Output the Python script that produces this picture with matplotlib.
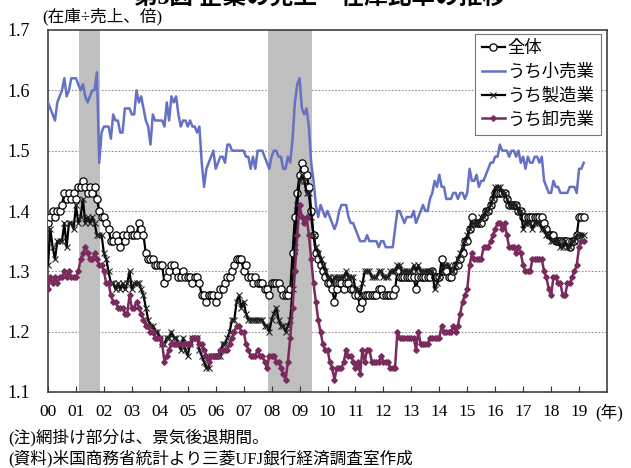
import numpy as np
import pandas as pd
import matplotlib
matplotlib.use('Agg')
import matplotlib.pyplot as plt

# 数字はTimes系、和文はCJKフォントへフォールバック
plt.rcParams['font.family'] = ['Liberation Serif', 'Noto Sans CJK JP']

# ---- データ (月次、2000年1月～2019年3月) ----
start_month = '2000-01'

total = [
    1.38, 1.39, 1.40, 1.39, 1.40, 1.40, 1.41, 1.43, 1.42, 1.43, 1.42, 1.43,  # 2000
    1.42, 1.44, 1.44, 1.45, 1.44, 1.43, 1.44, 1.43, 1.44, 1.42, 1.40, 1.39,  # 2001
    1.39, 1.38, 1.37, 1.35, 1.35, 1.36, 1.35, 1.34, 1.36, 1.35, 1.36, 1.37,  # 2002
    1.36, 1.36, 1.36, 1.38, 1.37, 1.36, 1.33, 1.32, 1.32, 1.32, 1.31, 1.31,  # 2003
    1.31, 1.31, 1.28, 1.29, 1.30, 1.31, 1.31, 1.30, 1.29, 1.29, 1.30, 1.29,  # 2004
    1.29, 1.29, 1.28, 1.29, 1.29, 1.28, 1.26, 1.26, 1.25, 1.26, 1.26, 1.26,  # 2005
    1.25, 1.26, 1.27, 1.27, 1.28, 1.29, 1.29, 1.30, 1.31, 1.32, 1.32, 1.32,  # 2006
    1.30, 1.31, 1.29, 1.29, 1.28, 1.29, 1.28, 1.28, 1.28, 1.27, 1.27, 1.26,  # 2007
    1.28, 1.28, 1.28, 1.28, 1.27, 1.26, 1.26, 1.26, 1.27, 1.33, 1.39, 1.43,  # 2008
    1.46, 1.48, 1.47, 1.46, 1.44, 1.40, 1.36, 1.33, 1.32, 1.31, 1.30, 1.29,  # 2009
    1.28, 1.28, 1.27, 1.25, 1.27, 1.28, 1.28, 1.27, 1.28, 1.28, 1.27, 1.27,  # 2010
    1.26, 1.26, 1.24, 1.25, 1.26, 1.26, 1.26, 1.26, 1.26, 1.26, 1.27, 1.27,  # 2011
    1.26, 1.26, 1.26, 1.26, 1.26, 1.27, 1.30, 1.29, 1.29, 1.29, 1.29, 1.29,  # 2012
    1.29, 1.29, 1.27, 1.29, 1.29, 1.29, 1.29, 1.29, 1.29, 1.30, 1.29, 1.29,  # 2013
    1.29, 1.32, 1.30, 1.30, 1.29, 1.29, 1.30, 1.31, 1.31, 1.32, 1.33, 1.35,  # 2014
    1.35, 1.37, 1.39, 1.38, 1.38, 1.38, 1.38, 1.39, 1.40, 1.40, 1.41, 1.42,  # 2015
    1.43, 1.43, 1.43, 1.43, 1.43, 1.42, 1.41, 1.41, 1.41, 1.41, 1.40, 1.40,  # 2016
    1.39, 1.39, 1.39, 1.39, 1.39, 1.39, 1.39, 1.39, 1.39, 1.38, 1.37, 1.36,  # 2017
    1.36, 1.36, 1.35, 1.35, 1.35, 1.35, 1.35, 1.35, 1.34, 1.35, 1.35, 1.36,  # 2018
    1.39, 1.39, 1.39,                                                        # 2019
]

retail = [
    1.58, 1.57, 1.56, 1.55, 1.58, 1.59, 1.60, 1.62, 1.59, 1.60, 1.62, 1.62,
    1.62, 1.61, 1.60, 1.61, 1.59, 1.58, 1.59, 1.60, 1.60, 1.63, 1.48, 1.53,
    1.54, 1.54, 1.54, 1.52, 1.56, 1.55, 1.55, 1.53, 1.53, 1.57, 1.57, 1.57,
    1.56, 1.56, 1.60, 1.58, 1.59, 1.57, 1.55, 1.54, 1.51, 1.56, 1.55, 1.55,
    1.55, 1.55, 1.54, 1.58, 1.55, 1.59, 1.58, 1.59, 1.56, 1.54, 1.55, 1.55,
    1.54, 1.55, 1.54, 1.54, 1.53, 1.54, 1.48, 1.44, 1.47, 1.48, 1.49, 1.50,
    1.47, 1.48, 1.49, 1.49, 1.48, 1.51, 1.51, 1.50, 1.50, 1.50, 1.50, 1.50,
    1.50, 1.49, 1.49, 1.47, 1.49, 1.47, 1.50, 1.50, 1.50, 1.49, 1.48, 1.47,
    1.49, 1.50, 1.50, 1.49, 1.49, 1.47, 1.47, 1.49, 1.48, 1.52, 1.58, 1.61,
    1.62, 1.57, 1.56, 1.57, 1.54, 1.48, 1.45, 1.41, 1.39, 1.41, 1.40, 1.39,
    1.40, 1.39, 1.38, 1.37, 1.38, 1.40, 1.41, 1.41, 1.41, 1.39, 1.38, 1.38,
    1.37, 1.36, 1.35, 1.35, 1.35, 1.36, 1.35, 1.35, 1.35, 1.35, 1.34, 1.35,
    1.35, 1.34, 1.34, 1.34, 1.34, 1.37, 1.40, 1.40, 1.39, 1.38, 1.39, 1.39,
    1.39, 1.40, 1.38, 1.39, 1.40, 1.41, 1.40, 1.40, 1.42, 1.43, 1.45, 1.44,
    1.46, 1.44, 1.44, 1.42, 1.42, 1.42, 1.43, 1.43, 1.42, 1.43, 1.43, 1.42,
    1.43, 1.47, 1.45, 1.45, 1.46, 1.44, 1.45, 1.45, 1.46, 1.47, 1.48, 1.48,
    1.49, 1.49, 1.51, 1.50, 1.50, 1.50, 1.49, 1.50, 1.50, 1.49, 1.50, 1.48,
    1.49, 1.47, 1.49, 1.48, 1.48, 1.49, 1.49, 1.48, 1.49, 1.45, 1.44, 1.43,
    1.43, 1.45, 1.44, 1.44, 1.43, 1.43, 1.43, 1.43, 1.44, 1.44, 1.44, 1.43,
    1.47, 1.47, 1.48,
]

manuf = [
    1.31, 1.37, 1.34, 1.32, 1.35, 1.35, 1.35, 1.38, 1.34, 1.38, 1.38, 1.37,
    1.41, 1.38, 1.39, 1.42, 1.38, 1.39, 1.38, 1.39, 1.38, 1.36, 1.36, 1.36,
    1.33, 1.32, 1.30, 1.28, 1.28, 1.27, 1.28, 1.27, 1.28, 1.27, 1.28, 1.30,
    1.27, 1.28, 1.28, 1.28, 1.27, 1.26, 1.24, 1.22, 1.21, 1.21, 1.20, 1.20,
    1.19, 1.18, 1.18, 1.19, 1.19, 1.20, 1.19, 1.19, 1.18, 1.17, 1.19, 1.17,
    1.16, 1.18, 1.19, 1.19, 1.19, 1.17, 1.16, 1.15, 1.14, 1.14, 1.16, 1.16,
    1.16, 1.16, 1.16, 1.18, 1.18, 1.19, 1.20, 1.22, 1.22, 1.25, 1.26, 1.24,
    1.25, 1.23, 1.22, 1.22, 1.22, 1.22, 1.22, 1.22, 1.22, 1.21, 1.21, 1.20,
    1.22, 1.23, 1.24, 1.22, 1.21, 1.21, 1.20, 1.21, 1.22, 1.27, 1.34, 1.41,
    1.45, 1.46, 1.45, 1.43, 1.43, 1.39, 1.36, 1.34, 1.33, 1.32, 1.31, 1.30,
    1.29, 1.29, 1.28, 1.29, 1.29, 1.29, 1.29, 1.29, 1.30, 1.29, 1.29, 1.29,
    1.27, 1.27, 1.26, 1.28, 1.30, 1.30, 1.30, 1.29, 1.29, 1.29, 1.30, 1.30,
    1.29, 1.29, 1.29, 1.30, 1.30, 1.30, 1.31, 1.31, 1.30, 1.30, 1.30, 1.30,
    1.30, 1.31, 1.30, 1.31, 1.30, 1.30, 1.30, 1.30, 1.30, 1.30, 1.27, 1.28,
    1.29, 1.30, 1.31, 1.31, 1.31, 1.30, 1.30, 1.31, 1.32, 1.33, 1.34, 1.35,
    1.36, 1.37, 1.38, 1.38, 1.38, 1.38, 1.39, 1.39, 1.40, 1.40, 1.41, 1.42,
    1.44, 1.44, 1.44, 1.43, 1.43, 1.42, 1.41, 1.41, 1.41, 1.41, 1.40, 1.40,
    1.37, 1.38, 1.38, 1.38, 1.37, 1.38, 1.38, 1.38, 1.37, 1.37, 1.36, 1.36,
    1.35, 1.35, 1.35, 1.35, 1.34, 1.34, 1.35, 1.34, 1.34, 1.35, 1.35, 1.36,
    1.36, 1.36, 1.36,
]

wholesale = [
    1.27, 1.29, 1.28, 1.29, 1.28, 1.29, 1.29, 1.30, 1.29, 1.30, 1.29, 1.29,
    1.29, 1.30, 1.32, 1.33, 1.34, 1.33, 1.32, 1.32, 1.33, 1.32, 1.31, 1.31,
    1.30, 1.28, 1.28, 1.26, 1.25, 1.25, 1.24, 1.24, 1.24, 1.23, 1.23, 1.26,
    1.24, 1.24, 1.25, 1.24, 1.23, 1.22, 1.21, 1.21, 1.20, 1.20, 1.19, 1.19,
    1.19, 1.18, 1.15, 1.16, 1.17, 1.18, 1.18, 1.18, 1.18, 1.18, 1.18, 1.18,
    1.18, 1.18, 1.19, 1.19, 1.19, 1.18, 1.18, 1.17, 1.16, 1.15, 1.16, 1.16,
    1.16, 1.16, 1.17, 1.17, 1.17, 1.17, 1.18, 1.19, 1.20, 1.21, 1.21, 1.20,
    1.20, 1.18, 1.17, 1.16, 1.16, 1.16, 1.17, 1.16, 1.16, 1.15, 1.14, 1.16,
    1.16, 1.16, 1.15, 1.15, 1.14, 1.13, 1.12, 1.15, 1.19, 1.24, 1.30, 1.36,
    1.41, 1.39, 1.38, 1.39, 1.36, 1.32, 1.28, 1.25, 1.22, 1.20, 1.18, 1.17,
    1.17, 1.15, 1.14, 1.12, 1.14, 1.14, 1.14, 1.15, 1.17, 1.16, 1.16, 1.15,
    1.14, 1.15, 1.13, 1.17, 1.15, 1.17, 1.17, 1.15, 1.15, 1.15, 1.15, 1.16,
    1.15, 1.15, 1.15, 1.14, 1.14, 1.14, 1.20, 1.19, 1.19, 1.19, 1.19, 1.19,
    1.19, 1.19, 1.17, 1.20, 1.18, 1.18, 1.18, 1.18, 1.19, 1.19, 1.19, 1.19,
    1.19, 1.21, 1.20, 1.20, 1.20, 1.20, 1.21, 1.20, 1.21, 1.23, 1.25, 1.26,
    1.27, 1.31, 1.33, 1.32, 1.32, 1.32, 1.32, 1.34, 1.34, 1.34, 1.35, 1.36,
    1.37, 1.38, 1.38, 1.37, 1.38, 1.36, 1.34, 1.34, 1.34, 1.33, 1.34, 1.33,
    1.31, 1.30, 1.30, 1.30, 1.32, 1.32, 1.32, 1.32, 1.32, 1.30, 1.29, 1.27,
    1.26, 1.29, 1.29, 1.28, 1.28, 1.26, 1.26, 1.28, 1.28, 1.29, 1.30, 1.31,
    1.34, 1.35, 1.35,
]

# 景気後退期 (開始月, 終了月)
recessions = [('2001-03', '2001-11'), ('2007-12', '2009-06')]

years = list(range(2000, 2020))
year_labels = [f'{y % 100:02d}' for y in years]
yticks = [1.1, 1.2, 1.3, 1.4, 1.5, 1.6, 1.7]

series_names = ['全体', 'うち小売業', 'うち製造業', 'うち卸売業']


def to_x(dates):
    return dates.year + (dates.month - 1) / 12.0


dates = pd.date_range(start_month, periods=len(total), freq='MS')
x = to_x(dates)

W, H = 631, 468
fig = plt.figure(figsize=(W / 100, H / 100), dpi=100, facecolor='white')
ax = fig.add_axes([48 / W, 1 - 392 / H, (607 - 48) / W, (392 - 30) / H])

# 網掛け(景気後退期)
for s, e in recessions:
    xs = to_x(pd.DatetimeIndex([s]))[0] - 0.5 / 12
    xe = to_x(pd.DatetimeIndex([e]))[0] + 0.5 / 12
    ax.axvspan(xs, xe, color='#bfbfbf', lw=0, zorder=1)

ax.plot(x, total, color='black', lw=1.6, marker='o', ms=5.2,
        mfc='white', mec='black', mew=0.9, label=series_names[0], zorder=3)
ax.plot(x, retail, color='#6471c4', lw=1.8, label=series_names[1], zorder=3)
ax.plot(x, manuf, color='black', lw=1.6, marker='x', ms=4.2,
        mec='#222222', mew=0.8, label=series_names[2], zorder=3)
ax.plot(x, wholesale, color='#7a2a5c', lw=1.8, marker='D', ms=2.8,
        mfc='#7a2a5c', mec='#7a2a5c', label=series_names[3], zorder=3)

ax.set_xlim(2000, 2020)
ax.set_ylim(1.1, 1.7)
ax.set_xticks(years)
ax.set_xticklabels(year_labels)
ax.set_yticks(yticks)
ax.set_yticklabels([f'{v:.1f}' for v in yticks])
ax.tick_params(axis='x', direction='in', length=4, width=0.8,
               labelsize=12.5, pad=9, color='#333333')
ax.tick_params(axis='y', length=0, labelsize=13, pad=13)

for v in yticks[1:-1]:
    ax.axhline(v, color='#909090', lw=0.8, ls=(0, (1.5, 1.5)), zorder=0.5)

for sp in ax.spines.values():
    sp.set_color('#404040')
    sp.set_linewidth(1.2)

leg = ax.legend(loc='upper right', bbox_to_anchor=(601 / W, 1 - 34 / H),
                bbox_transform=fig.transFigure, borderaxespad=0,
                frameon=True, fancybox=False, prop={'size': 12.5},
                handlelength=1.3, handletextpad=0.15, labelspacing=0.42,
                borderpad=0.4)
leg.get_frame().set_edgecolor('#555555')
leg.get_frame().set_linewidth(0.8)

fig.text(42 / W, 1 - 17 / H, '(在庫÷売上、倍)', fontsize=12,
         ha='left', va='center')
fig.text(609 / W, 1 - 413 / H, '(年)', fontsize=12, ha='center', va='center')
fig.text(8 / W, 1 - 437 / H, '(注)網掛け部分は、景気後退期間。', fontsize=12,
         ha='left', va='center')
fig.text(8 / W, 1 - 459 / H, '(資料)米国商務省統計より三菱UFJ銀行経済調査室作成',
         fontsize=12, ha='left', va='center')
# 上端で切れているタイトル(元図と同じく下半分のみ見える)
fig.text(320 / W, 1 - 9 / H, '第3図 企業の売上・在庫比率の推移', fontsize=17,
         fontweight='bold', ha='center', va='bottom')

fig.savefig('out.png', dpi=100, facecolor='white')
plt.close(fig)
